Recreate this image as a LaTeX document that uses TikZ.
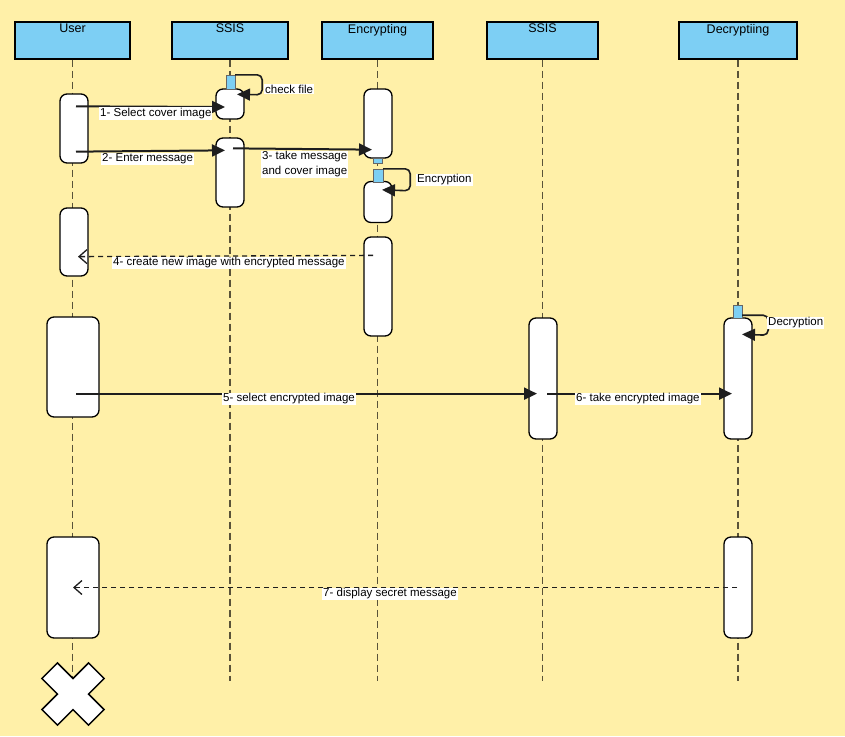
\documentclass[tikz,border=0pt]{standalone}
\usepackage{fontspec}
\setmainfont{Liberation Sans}
\usepackage{tikz}
\usetikzlibrary{positioning,calc,arrows.meta}

\definecolor{paper}{HTML}{FFF0A8}
\definecolor{headblue}{HTML}{7DCFF4}
\definecolor{lifecol}{HTML}{5A5339}
\definecolor{msgcol}{HTML}{1E1E1E}

\begin{document}
\begin{tikzpicture}[x=1pt, y=-1pt,
    font=\fontsize{11.5}{15}\selectfont,
    head/.style={draw, fill=headblue, line width=1.2pt, minimum height=37pt, inner sep=0pt},
    headtxt/.style={anchor=north, inner sep=2.5pt, font=\fontsize{12.5}{14}\selectfont},
    lifeline/.style={draw=lifecol, line width=1.2pt, dash pattern=on 7pt off 4pt},
    act/.style={draw, fill=white, line width=1.3pt, rounded corners=7pt, inner sep=0pt},
    focus/.style={draw=black!60, fill=headblue, line width=0.4pt, inner sep=0pt},
    msg/.style={draw=msgcol, line width=2pt, -{Triangle[length=13pt,width=12pt]}},
    reply/.style={draw=msgcol, line width=1.3pt, dash pattern=on 5pt off 4pt, -{Straight Barb[length=8pt,width=14pt]}},
    lbl/.style={fill=white, inner sep=1pt, anchor=west}]

    % Background
    \fill[paper] (0,0) rectangle (845,736);

    % Lifeline heads
    \foreach \n/\x/\w/\t in {user/72.5/115/User, ssisA/230/116/SSIS, enc/377.5/111/Encrypting, ssisB/542.5/111/SSIS, dec/738/118/Decryptiing} {
        \node[head, minimum width=\w pt] (\n) at (\x,40.5) {};
        \node[headtxt] (\n-t) at (\n.north) {\t};
        \draw[lifeline] (\n.south) -- (\n.south |- 0,681);
    }

    % Activation bars
    \foreach \n/\x/\y/\w/\h in {ua/74/128.5/28/69, ub/74/242/28/68, uc/73/367/52/100, ud/73/587.5/52/101,
                                sa/230/104/28/30, sb/230/172.5/28/69,
                                ea/378/123.5/28/69, eb/378/202/28/41, ec/378/286.5/28/99,
                                sc/543/378.5/28/121, da/738/378.5/28/121, db/738/587.5/28/101} {
        \node[act, minimum width=\w pt, minimum height=\h pt] (\n) at (\x,\y) {};
    }

    % Focus of control
    \foreach \n/\x/\y/\w/\h in {ca/230.5/82/9/14, ce/377.5/160.5/9/5, cb/378/175.5/10/13, cd/737.5/311.5/9/13} {
        \node[focus, minimum width=\w pt, minimum height=\h pt] (\n) at (\x,\y) {};
    }

    % Message end points
    \coordinate (m1s) at ([xshift=2pt,yshift=-13pt]ua.north);
    \coordinate (m1e) at ([xshift=-5pt,yshift=-3pt]sa.center);
    \coordinate (m2s) at ([xshift=2pt,yshift=12pt]ua.south);
    \coordinate (m2e) at ([xshift=-5pt,yshift=-13pt]sb.north);
    \coordinate (m3s) at ([xshift=3pt,yshift=-11pt]sb.north);
    \coordinate (m3e) at ([xshift=-6pt,yshift=9pt]ea.south);
    \coordinate (m4s) at ([xshift=-5pt,yshift=-19pt]ec.north);
    \coordinate (m4e) at ([xshift=4pt,yshift=20pt]ub.south);
    \coordinate (m5s) at ([xshift=3pt,yshift=24pt]uc.south);
    \coordinate (m5e) at ([xshift=-6pt,yshift=46pt]sc.south);
    \coordinate (m6s) at ([xshift=4pt,yshift=46pt]sc.south);
    \coordinate (m6e) at ([xshift=-6pt,yshift=46pt]da.south);
    \coordinate (m7s) at ([xshift=-1pt]db.center);
    \coordinate (m7e) at (ud.center);

    % Messages
    \draw[msg] (m1s) -- (m1e);
    \draw[msg] (m2s) -- (m2e);
    \draw[msg] (m3s) -- (m3e);
    \draw[reply] (m4s) -- (m4e);
    \draw[msg] (m5s) -- (m5e);
    \draw[msg] (m6s) -- (m6e);
    \draw[reply] (m7s) -- (m7e);

    % Self messages
    \coordinate (k1) at ([xshift=7pt,yshift=-6pt]sa.north);
    \coordinate (k2) at ([xshift=4pt,yshift=-9pt]eb.north);
    \coordinate (k3) at ([xshift=4pt,yshift=-17pt]da.north);
    \draw[msg, line width=1.6pt, rounded corners=5pt] (ca.north east) -- ++(27,0) -- ++(0,20) -- (k1);
    \draw[msg, line width=1.6pt, rounded corners=5pt] (cb.north east) -- ++(27,0) -- ++(0,22) -- (k2);
    \draw[msg, line width=1.6pt, rounded corners=5pt] ([yshift=3pt]cd.south east) -- ++(26,0) -- ++(0,20) -- (k3);

    % Labels
    \node[lbl] (l1) at (99,113.5) {1- Select cover image};
    \node[lbl] (l2) at (101,159) {2- Enter message};
    \node[lbl, align=left] (l3) at (261,164.5) {3- take message\\and cover image};
    \node[lbl] (lchk) at (264,89) {check file};
    \node[lbl] (lenc) at (416,180) {Encryption};
    \node[lbl] (l4) at (112,263) {4- create new image with encrypted message};
    \node[lbl, anchor=center] (l5) at (289,399) {5- select encrypted image};
    \node[lbl] (l6) at (575,399) {6- take encrypted image};
    \node[lbl] (ldec) at (767,323) {Decryption};
    \node[lbl] (l7) at (322,594) {7- display secret message};

    % Destroy mark
    \begin{scope}[shift={(73,694)}, rotate=45]
        \draw[line width=1.5pt, fill=white] (33,11) -- (11,11) -- (11,33) -- (-11,33) -- (-11,11) -- (-33,11)
            -- (-33,-11) -- (-11,-11) -- (-11,-33) -- (11,-33) -- (11,-11) -- (33,-11) -- cycle;
    \end{scope}
\end{tikzpicture}
\end{document}
